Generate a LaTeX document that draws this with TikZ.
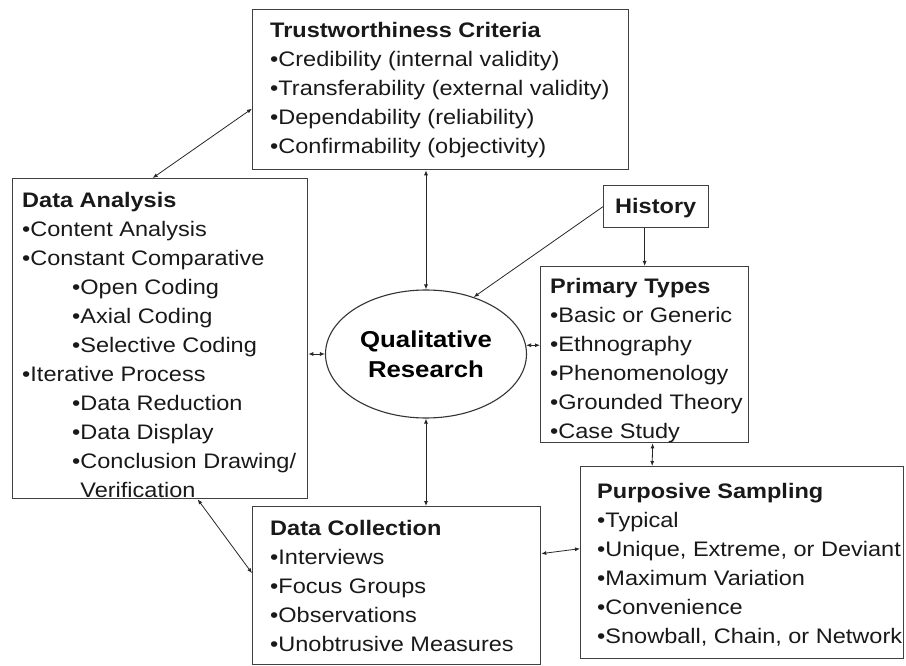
\documentclass[tikz,border=0pt]{standalone}
\usepackage{fontspec}
\setmainfont{Liberation Sans}[FakeStretch=1.12]
\usetikzlibrary{shapes.geometric,arrows.meta,calc}
\begin{document}
\begin{tikzpicture}[x=1pt,y=-1pt,
  box/.style={draw=black!75,line width=1.3pt,rectangle,inner sep=0pt,anchor=north west},
  txt/.style={inner sep=0pt,anchor=north west,align=left,font=\fontsize{21}{29}\selectfont,text=black!90},
  conn/.style={black!85,line width=0.8pt},
  dbl/.style={conn,{Latex[length=5pt,width=4pt]}-{Latex[length=5pt,width=4pt]}},
  sgl/.style={conn,-{Latex[length=5pt,width=4pt]}}]
\useasboundingbox (0,0) rectangle (906,666);
% boxes
\node[box,minimum width=376pt,minimum height=160pt] (trust) at (252,9) {};
\node[box,minimum width=295pt,minimum height=320pt] (da) at (12,178) {};
\node[box,minimum width=105pt,minimum height=42pt] (hist) at (603,185) {};
\node[box,minimum width=208pt,minimum height=176pt] (pt) at (540,266) {};
\node[box,minimum width=323pt,minimum height=192pt] (ps) at (580,466) {};
\node[box,minimum width=288pt,minimum height=158pt] (dc) at (252,506) {};
\node[draw=black!80,line width=1.1pt,ellipse,minimum width=201pt,minimum height=128pt,inner sep=0pt,
  align=center,font=\fontsize{23}{30}\selectfont\bfseries] (ell) at (426,354) {Qualitative\\Research};
% texts
\node[txt] (trustT) at (270,21.7) {\textbf{Trustworthiness Criteria}\\
•Credibility (internal validity)\\
•Transferability (external validity)\\
•Dependability (reliability)\\
•Confirmability (objectivity)};
\node[txt] (daT) at (22,192) {\textbf{Data Analysis}\\
•Content Analysis\\
•Constant Comparative\\
\hspace*{50pt}•Open Coding\\
\hspace*{50pt}•Axial Coding\\
\hspace*{50pt}•Selective Coding\\
•Iterative Process\\
\hspace*{50pt}•Data Reduction\\
\hspace*{50pt}•Data Display\\
\hspace*{50pt}•Conclusion Drawing/\\
\hspace*{50pt}\phantom{•}Verification};
\node[txt] (histT) at (615,198) {\textbf{History}};
\node[txt] (ptT) at (550,278) {\textbf{Primary Types}\\
•Basic or Generic\\
•Ethnography\\
•Phenomenology\\
•Grounded Theory\\
•Case Study};
\node[txt] (psT) at (597,483) {\textbf{Purposive Sampling}\\
•Typical\\
•Unique, Extreme, or Deviant\\
•Maximum Variation\\
•Convenience\\
•Snowball, Chain, or Network};
\node[txt] (dcT) at (270,520) {\textbf{Data Collection}\\
•Interviews\\
•Focus Groups\\
•Observations\\
•Unobtrusive Measures};
% connectors
\draw[dbl] ($(trust.west)+(0,19)$) -- ($(da.north)+(-7.5,0)$);
\draw[dbl] (trust.south -| ell.north) -- (ell.north);
\draw[sgl] (hist.west) -- (ell.50);
\draw[sgl] ($(hist.south)+(-11.5,0)$) -- ($(pt.north)+(0,0)$);
\draw[dbl] (da.east |- ell.west) -- (ell.west);
\draw[dbl] (ell.5) -- (pt.west |- ell.5);
\draw[dbl] (ell.south) -- (dc.north -| ell.south);
\draw[dbl] ($(pt.south)+(8,0)$) -- ($(ps.north)+(-90,0)$);
\draw[dbl] ($(dc.east)+(0,-32)$) -- ($(ps.west)+(0,-14)$);
\draw[dbl] ($(da.south)+(37.5,0)$) -- ($(dc.west)+(0,-12.5)$);
\end{tikzpicture}
\end{document}
